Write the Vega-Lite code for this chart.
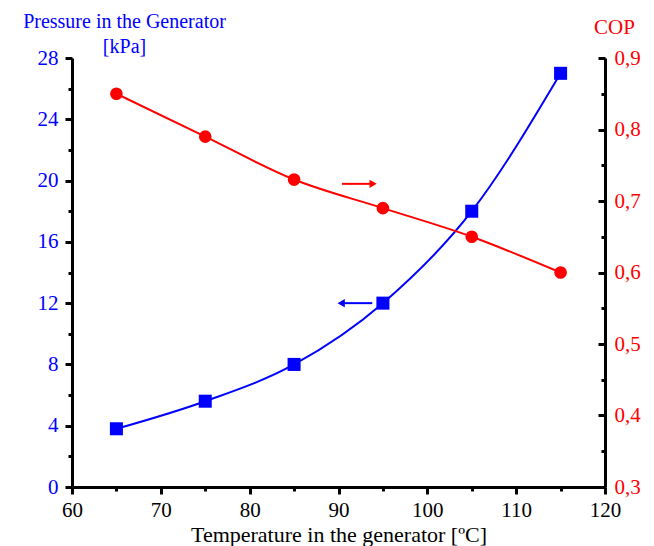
{
  "$schema": "https://vega.github.io/schema/vega-lite/v6.json",
  "width": 533,
  "height": 429,
  "autosize": {"type": "none"},
  "padding": {"left": 72, "top": 58, "right": 49, "bottom": 59},
  "background": "white",
  "config": {"view": {"stroke": null}, "font": "Liberation Serif"},
  "datasets": {
    "main": [
      {"T": 65, "P": 3.8, "COP": 0.85},
      {"T": 75, "P": 5.6, "COP": 0.79},
      {"T": 85, "P": 8.0, "COP": 0.73},
      {"T": 95, "P": 12.0, "COP": 0.69},
      {"T": 105, "P": 18.0, "COP": 0.65},
      {"T": 115, "P": 27.0, "COP": 0.60}
    ],
    "arrowP": [{"T": 90.6, "T2": 93.8, "P": 12.0}],
    "headP": [{"T": 90.3, "P": 12.0}],
    "arrowC": [{"T": 90.4, "T2": 93.6, "COP": 0.724}],
    "headC": [{"T": 93.9, "COP": 0.724}]
  },
  "encoding": {
    "x": {
      "field": "T",
      "type": "quantitative",
      "scale": {"domain": [60, 120], "nice": false, "zero": false},
      "axis": {
        "orient": "bottom",
        "values": [60, 65, 70, 75, 80, 85, 90, 95, 100, 105, 110, 115, 120],
        "labelExpr": "datum.value % 10 === 0 ? datum.label : ''",
        "labelFont": "Liberation Serif",
        "labelFontSize": 21,
        "labelColor": "black",
        "labelPadding": 5,
        "labelFlush": false,
        "labelOverlap": false,
        "labelBound": false,
        "tickSize": {"condition": {"test": "datum.value % 10 === 0", "value": 7}, "value": 4},
        "tickColor": "black",
        "tickWidth": 3,
        "domainColor": "black",
        "domainWidth": 3,
        "grid": false,
        "title": "Temperature in the generator [ºC]",
        "titleFont": "Liberation Serif",
        "titleFontSize": 22,
        "titleFontWeight": "normal",
        "titleColor": "black",
        "titleBaseline": "alphabetic",
        "titleY": 54
      }
    }
  },
  "layer": [
    {
      "encoding": {
        "y": {
          "field": "P",
          "type": "quantitative",
          "scale": {"domain": [0, 28], "nice": false, "zero": false},
          "axis": {
            "orient": "left",
            "values": [0, 2, 4, 6, 8, 10, 12, 14, 16, 18, 20, 22, 24, 26, 28],
            "labelExpr": "datum.value % 4 === 0 ? datum.label : ''",
            "labelFont": "Liberation Serif",
            "labelFontSize": 21,
            "labelColor": "#0000FF",
            "labelPadding": 7,
            "labelFlush": false,
            "labelOverlap": false,
            "labelBound": false,
            "tickSize": {"condition": {"test": "datum.value % 4 === 0", "value": 7}, "value": 4},
            "tickColor": "black",
            "tickWidth": 3,
            "domainColor": "black",
            "domainWidth": 3,
            "grid": false,
            "title": ["Pressure in the Generator", "[kPa]"],
            "titleFont": "Liberation Serif",
            "titleFontSize": 20,
            "titleFontWeight": "normal",
            "titleColor": "#0000FF",
            "titleAngle": 0,
            "titleAlign": "center",
            "titleBaseline": "alphabetic",
            "titleLineHeight": 25,
            "titleX": 52,
            "titleY": -31
          }
        }
      },
      "layer": [
        {
          "data": {"name": "main"},
          "mark": {"type": "line", "color": "#0000FF", "strokeWidth": 2, "interpolate": "monotone"}
        },
        {
          "data": {"name": "main"},
          "mark": {"type": "point", "shape": "square", "filled": true, "color": "#0000FF", "size": 170, "opacity": 1}
        },
        {
          "data": {"name": "arrowP"},
          "mark": {"type": "rule", "color": "#0000FF", "strokeWidth": 2},
          "encoding": {"x2": {"field": "T2"}}
        },
        {
          "data": {"name": "headP"},
          "mark": {"type": "point", "shape": "triangle-left", "filled": true, "color": "#0000FF", "size": 70, "opacity": 1}
        }
      ]
    },
    {
      "encoding": {
        "y": {
          "field": "COP",
          "type": "quantitative",
          "scale": {"domain": [0.3, 0.9], "nice": false, "zero": false},
          "axis": {
            "orient": "right",
            "values": [0.3, 0.35, 0.4, 0.45, 0.5, 0.55, 0.6, 0.65, 0.7, 0.75, 0.8, 0.85, 0.9],
            "labelExpr": "round(datum.value * 100) % 10 === 0 ? replace(format(datum.value, '.1f'), '.', ',') : ''",
            "labelFont": "Liberation Serif",
            "labelFontSize": 21,
            "labelColor": "#FF0000",
            "labelPadding": 16,
            "labelFlush": false,
            "labelOverlap": false,
            "labelBound": false,
            "tickSize": {"condition": {"test": "round(datum.value * 100) % 10 === 0", "value": -7}, "value": -4},
            "tickColor": "black",
            "tickWidth": 3,
            "domainColor": "black",
            "domainWidth": 3,
            "grid": false,
            "title": "COP",
            "titleFont": "Liberation Serif",
            "titleFontSize": 21,
            "titleFontWeight": "normal",
            "titleColor": "#FF0000",
            "titleAngle": 0,
            "titleAlign": "center",
            "titleBaseline": "alphabetic",
            "titleX": 9,
            "titleY": -25
          }
        }
      },
      "layer": [
        {
          "data": {"name": "main"},
          "mark": {"type": "line", "color": "#FF0000", "strokeWidth": 2, "interpolate": "monotone"}
        },
        {
          "data": {"name": "main"},
          "mark": {"type": "point", "shape": "circle", "filled": true, "color": "#FF0000", "size": 160, "opacity": 1}
        },
        {
          "data": {"name": "arrowC"},
          "mark": {"type": "rule", "color": "#FF0000", "strokeWidth": 2},
          "encoding": {"x2": {"field": "T2"}}
        },
        {
          "data": {"name": "headC"},
          "mark": {"type": "point", "shape": "triangle-right", "filled": true, "color": "#FF0000", "size": 70, "opacity": 1}
        }
      ]
    }
  ],
  "resolve": {"scale": {"y": "independent"}}
}
